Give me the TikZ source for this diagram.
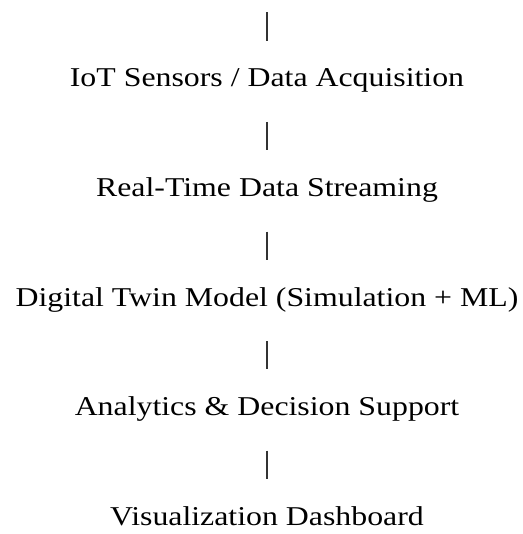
\documentclass[tikz,border=0pt]{standalone}
\usepackage{fontspec}
\setmainfont{Liberation Serif}[FakeStretch=1.17]
\usepackage{tikz}

\tikzset{
	stage/.style={inner sep=0pt, anchor=base, text height=18pt, text depth=6pt, font=\fontsize{27.2}{30}\selectfont},
	bar/.style={line width=1.7pt, black!80, shorten >=28pt}
}

\begin{document}
\begin{tikzpicture}[x=1pt, y=-1pt]
	\useasboundingbox (0,0) rectangle (522,534);
	\coordinate (top) at (267, 12.5);
	
	\node [stage] (sensors) at (267, 87) {IoT Sensors / Data Acquisition};
	\node [stage] (stream) at (267, 196.5) {Real-Time Data Streaming};
	\node [stage] (twin) at (267, 306) {Digital Twin Model (Simulation + ML)};
	\node [stage] (analytics) at (267, 415.5) {Analytics \& Decision Support};
	\node [stage] (dashboard) at (267, 525) {Visualization Dashboard};
	
	\draw [bar] (top) -- (sensors.north);
	\draw [bar, shorten <=28.8pt] (sensors.south) -- (stream.north);
	\draw [bar, shorten <=28.8pt] (stream.south) -- (twin.north);
	\draw [bar, shorten <=28.8pt] (twin.south) -- (analytics.north);
	\draw [bar, shorten <=28.8pt] (analytics.south) -- (dashboard.north);
	
\end{tikzpicture}
\end{document}
